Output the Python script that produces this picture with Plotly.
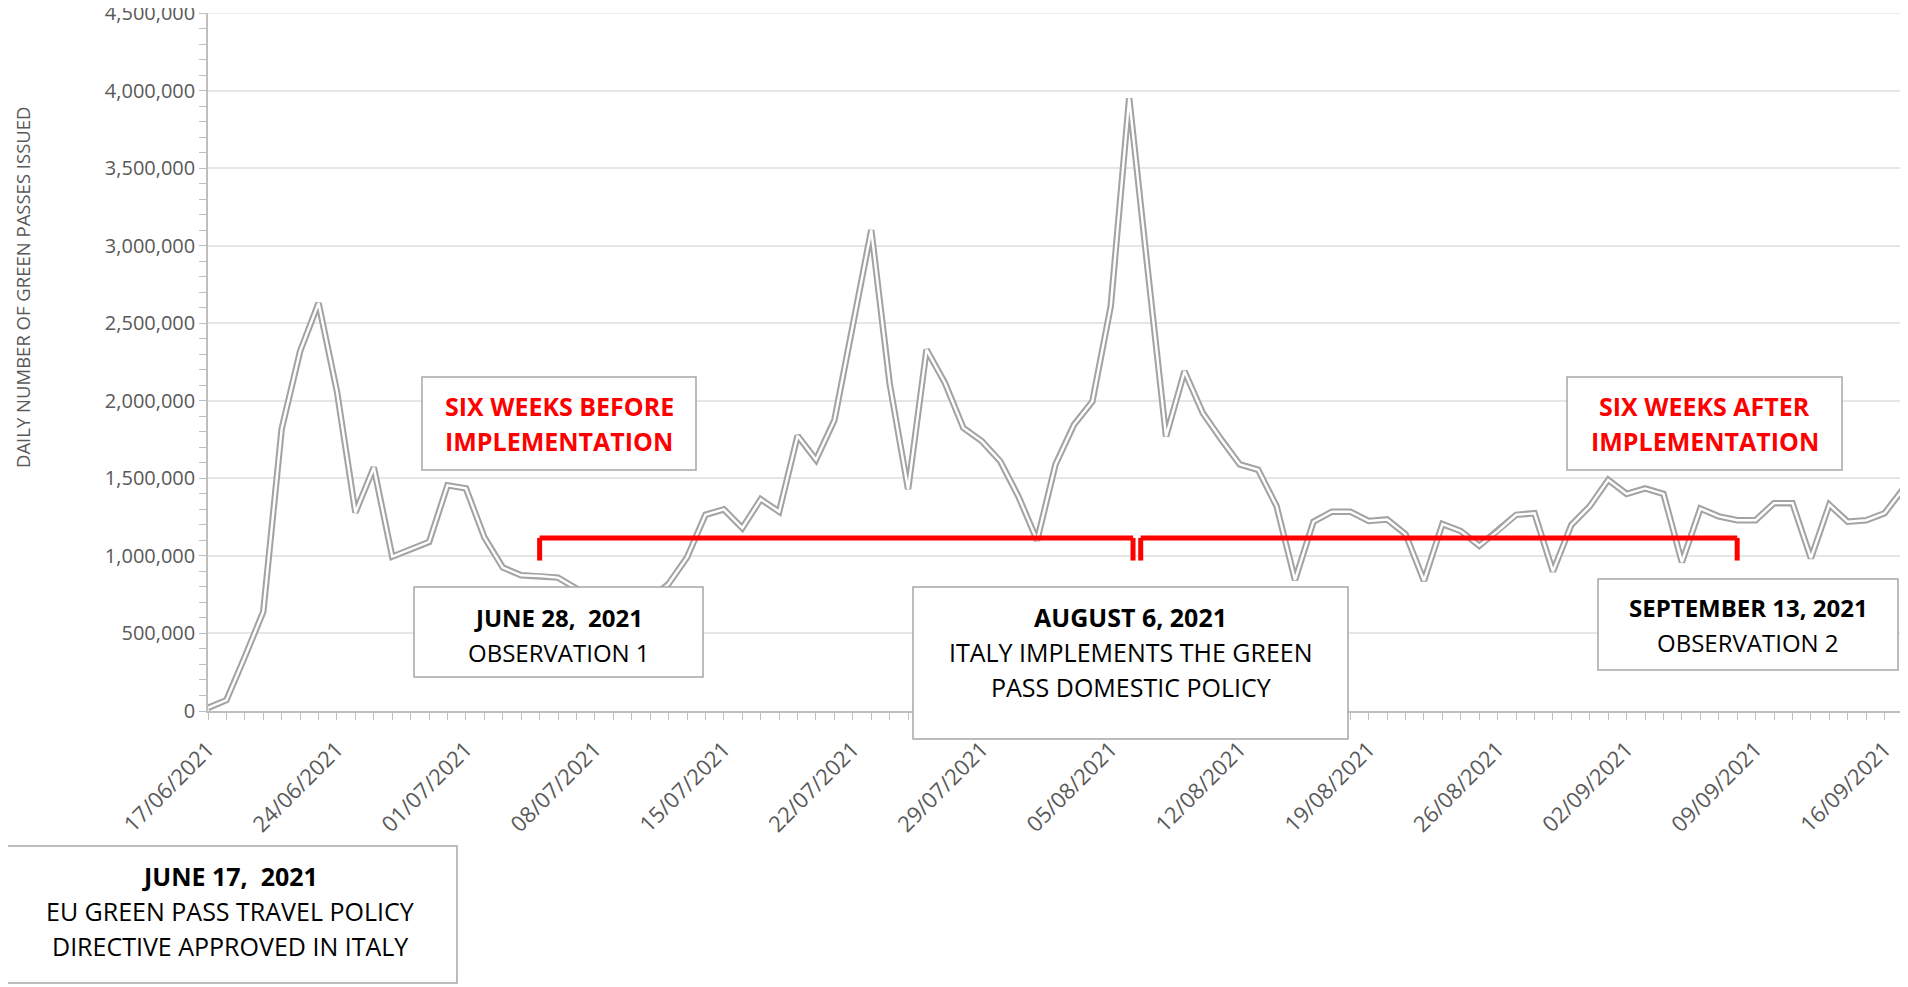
import pandas as pd
import plotly.graph_objects as go

# daily green passes issued, 17/06/2021 .. 17/09/2021
dates = pd.date_range('2021-06-17', '2021-09-17', freq='D')
passes = [
    20000, 70000, 350000, 640000, 1820000, 2320000, 2630000, 2060000,
    1280000, 1570000, 995000, 1040000, 1090000, 1455000, 1435000, 1120000,
    925000, 875000, 870000, 860000, 790000, 720000, 680000, 690000,
    720000, 820000, 990000, 1265000, 1300000, 1180000, 1365000, 1285000,
    1775000, 1620000, 1875000, 2480000, 3100000, 2110000, 1430000, 2330000,
    2115000, 1825000, 1740000, 1610000, 1380000, 1100000, 1590000, 1845000,
    1995000, 2610000, 3950000, 2850000, 1770000, 2190000, 1920000, 1750000,
    1590000, 1555000, 1320000, 845000, 1220000, 1285000, 1285000, 1225000,
    1235000, 1140000, 840000, 1205000, 1160000, 1065000, 1160000, 1265000,
    1275000, 900000, 1200000, 1320000, 1490000, 1400000, 1435000, 1400000,
    960000, 1305000, 1255000, 1230000, 1230000, 1340000, 1340000, 985000,
    1330000, 1220000, 1230000, 1275000, 1430000,
]
y_ticks = [0, 500000, 1000000, 1500000, 2000000, 2500000,
           3000000, 3500000, 4000000, 4500000]

# bracket: before period and after period
bracket_start = '2021-07-05'
bracket_mid_left = '2021-08-06 05:00'
bracket_mid_right = '2021-08-06 15:00'
bracket_end = '2021-09-08'
bracket_level = 1116000
bracket_tip = 970000

# the page body has an 8px margin, so the figure is drawn 8px in from the corner
OFF = 8
W, H = 1908 - OFF, 987 - OFF
L, R, T, B = 208 - OFF, 5, 13 - OFF, 276
PW = W - L - R
PH = H - T - B

FONT = 'Open Sans'
GREY_TXT = '#595959'
AXIS = '#bfbfbf'
RED = '#ff0000'


def _px(px):
    return (px - OFF - L) / PW


def _py(py):
    return (H - B - (py - OFF)) / PH


def _text_box(x0, y0, x1, y1, lines, size, color='black'):
    """White bordered box (page pixels) plus one annotation per text line.

    lines: list of (text, centre_y, bold)
    """
    shape = dict(type='rect', xref='paper', yref='paper',
                 x0=_px(x0), x1=_px(x1), y0=_py(y1), y1=_py(y0),
                 fillcolor='white', line={'color': '#a6a6a6', 'width': 1.5},
                 layer='above')
    cx = (x0 + x1) / 2
    notes = []
    for text, cy, bold in lines:
        notes.append(dict(
            x=_px(cx), y=_py(cy), xref='paper', yref='paper',
            xanchor='center', yanchor='middle', showarrow=False,
            text=f'<b>{text}</b>' if bold else text,
            font={'family': FONT, 'size': size, 'color': color},
        ))
    return shape, notes


fig = go.Figure()
# Excel style "double" line: grey outline with a white core
fig.add_trace(go.Scatter(x=dates, y=passes, mode='lines',
                         line={'color': '#a3a3a3', 'width': 6.5},
                         showlegend=False, hoverinfo='skip'))
fig.add_trace(go.Scatter(x=dates, y=passes, mode='lines',
                         line={'color': 'white', 'width': 2.4},
                         showlegend=False))

red = {'color': RED, 'width': 5}
shapes = [
    dict(type='line', xref='paper', yref='y', x0=0, x1=1,
         y0=4500000, y1=4500000, line={'color': '#e6e6e6', 'width': 1.5},
         layer='below'),
    dict(type='line', xref='x', yref='y', x0=bracket_start, x1=bracket_mid_left,
         y0=bracket_level, y1=bracket_level, line=red),
    dict(type='line', xref='x', yref='y', x0=bracket_mid_right, x1=bracket_end,
         y0=bracket_level, y1=bracket_level, line=red),
]
for d in [bracket_start, bracket_mid_left, bracket_mid_right, bracket_end]:
    shapes.append(dict(type='line', xref='x', yref='y', x0=d, x1=d,
                       y0=bracket_tip, y1=bracket_level, line=red))

annotations = []
boxes = [
    (422, 377, 696, 470, [('SIX WEEKS BEFORE', 406, True),
                          ('IMPLEMENTATION', 441, True)], 25, RED),
    (1567, 377, 1842, 470, [('SIX WEEKS AFTER', 406, True),
                            ('IMPLEMENTATION', 441, True)], 25, RED),
    (414, 587, 703, 677, [('JUNE 28,  2021', 617, True),
                          ('OBSERVATION 1', 652, False)], 24, 'black'),
    (913, 587, 1348, 739, [('AUGUST 6, 2021', 617, True),
                           ('ITALY IMPLEMENTS THE GREEN', 652, False),
                           ('PASS DOMESTIC POLICY', 687, False)], 25, 'black'),
    (1598, 579, 1898, 670, [('SEPTEMBER 13, 2021', 607, True),
                            ('OBSERVATION 2', 642, False)], 24, 'black'),
    (3, 846, 457, 983, [('JUNE 17,  2021', 876, True),
                        ('EU GREEN PASS TRAVEL POLICY', 911, False),
                        ('DIRECTIVE APPROVED IN ITALY', 946, False)], 25, 'black'),
]
for x0, y0, x1, y1, lines, size, color in boxes:
    shape, notes = _text_box(x0, y0, x1, y1, lines, size, color)
    shapes.append(shape)
    annotations.extend(notes)

annotations.append(dict(
    x=_px(22), y=_py(287), xref='paper', yref='paper',
    text='DAILY NUMBER OF GREEN PASSES ISSUED', textangle=-90,
    showarrow=False, xanchor='center', yanchor='middle',
    font={'family': FONT, 'size': 18.5, 'color': GREY_TXT}))

fig.update_layout(
    width=W, height=H,
    margin={'l': L, 'r': R, 't': T, 'b': B, 'autoexpand': False},
    plot_bgcolor='white', paper_bgcolor='white',
    shapes=shapes, annotations=annotations,
    xaxis={
        'type': 'date', 'automargin': False,
        'range': ['2021-06-17', '2021-09-17'],
        'tick0': '2021-06-17', 'dtick': 7 * 86400000,
        'tickformat': '%d/%m/%Y', 'tickangle': -45,
        'ticks': 'outside', 'ticklen': 7, 'tickcolor': AXIS,
        'minor': {'dtick': 86400000, 'ticks': 'outside', 'ticklen': 7,
                  'tickcolor': AXIS, 'showgrid': False},
        'showgrid': False, 'showline': True, 'linecolor': AXIS, 'linewidth': 1.5,
        'tickfont': {'family': FONT, 'size': 22, 'color': GREY_TXT},
        'ticklabelstandoff': 8,
        'ticklabeloverflow': 'allow',
    },
    yaxis={
        'automargin': False,
        'range': [0, 4500000],
        'tickmode': 'array', 'tickvals': y_ticks, 'tickformat': ',',
        'ticks': 'outside', 'ticklen': 7, 'tickcolor': AXIS,
        'minor': {'tickmode': 'array',
                  'tickvals': list(range(100000, 4500001, 100000)),
                  'ticks': 'outside', 'ticklen': 7,
                  'tickcolor': AXIS, 'showgrid': False},
        'showgrid': True, 'gridcolor': '#e6e6e6', 'gridwidth': 1.5,
        'showline': True, 'linecolor': AXIS, 'linewidth': 1.5,
        'zeroline': False,
        'tickfont': {'family': FONT, 'size': 20, 'color': GREY_TXT},
        'ticklabeloverflow': 'allow',
    },
)

fig.write_html('out.html')
